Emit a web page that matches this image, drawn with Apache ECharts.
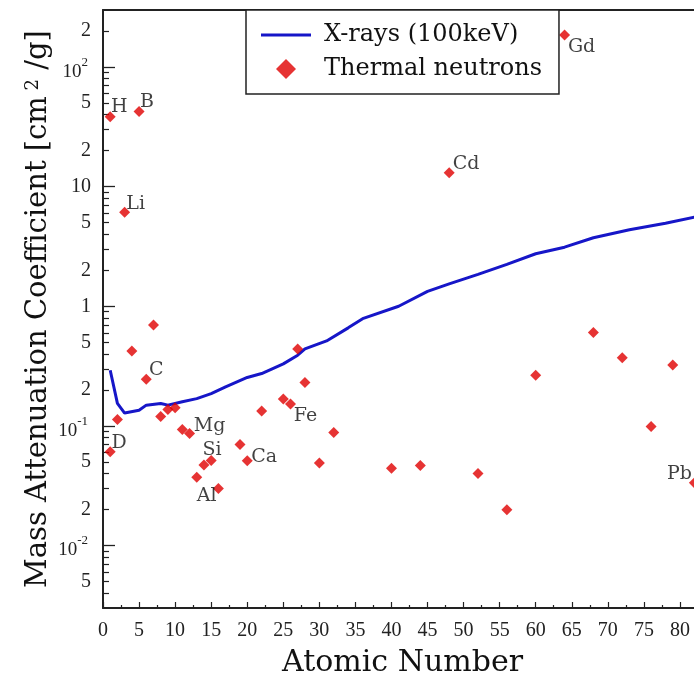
<!DOCTYPE html>
<html><head><meta charset="utf-8">
<script src="https://cdn.jsdelivr.net/npm/echarts@6/dist/echarts.min.js"></script>
<style>html,body{margin:0;padding:0;background:#fff}#c{width:694px;height:684px}</style>
</head><body><div id="c"></div>
<script>
// ---- data ----
const xrayZ = [1,2,3,5,6,8,9,11,13,15,17,20,22,25,27,28,31,34,36,41,45,48,52,56,60,64,68,73,78,82];
const xrayMu = [0.292,0.154,0.128,0.135,0.149,0.154,0.149,0.159,0.169,0.186,0.212,0.254,0.274,0.33,0.39,0.44,0.513,0.66,0.787,1.0,1.33,1.54,1.85,2.24,2.75,3.12,3.74,4.36,4.95,5.55];
const neutronZ = [1,1,2,3,4,5,6,7,8,9,10,11,12,13,14,15,16,19,20,22,25,26,27,28,30,32,40,44,48,52,56,60,64,68,72,76,79,82];
const neutronMu = [38.5,0.0607,0.113,6.1,0.423,42.6,0.245,0.697,0.12,0.137,0.142,0.0933,0.0865,0.0371,0.047,0.0514,0.030,0.070,0.051,0.133,0.168,0.152,0.44,0.23,0.049,0.088,0.0443,0.0467,13.1,0.040,0.0199,0.265,185,0.602,0.372,0.0989,0.323,0.0334];
const neutronLabel = ['H','D','','Li','','B','C','','','','','','Mg','Al','Si','','','','Ca','','','Fe','','','','','','','Cd','','','','Gd','','','','','Pb'];
const seriesNames = ['X-rays (100keV)', 'Thermal neutrons'];
const xTickValues = [0,5,10,15,20,25,30,35,40,45,50,55,60,65,70,75,80];
const yLabelTicks = [0.005,0.01,0.02,0.05,0.1,0.2,0.5,1,2,5,10,20,50,100,200];
const yDecadeTicks = [0.01,0.1,1,10,100];
const yMin = 0.003, yMax = 300, xMin = 0, xMax = 85;

// ---- styling (label placement offsets, not data) ----
const labelOffsets = {H:[9,-10],B:[8,-9],Li:[11,-8],D:[9,-9],C:[10,-9],Mg:[20,-7],Si:[8,-15],Al:[10,19],Ca:[17,-4],Fe:[15,12],Cd:[17,-9],Gd:[17,12],Pb:[-15,-9]};

const yMinorTicks = [];
[0.001,0.01,0.1,1,10,100].forEach(d => { for (let m = 2; m <= 9; m++) { const v = m*d; if (v > yMin*1.0001 && v < yMax) yMinorTicks.push(Math.log10(v)); } });

const serif = 'Liberation Serif';
const titleFont = 'DejaVu Serif';
const axisColor = '#222';
const blue = '#1616c8', red = '#e00000';

const chart = echarts.init(document.getElementById('c'), null, {renderer:'canvas'});
const lgMin = Math.log10(yMin), lgMax = Math.log10(yMax);

function yLabelFmt(v) {
  const e = Math.floor(v + 1e-9);
  const m = Math.round(Math.pow(10, v - e));
  if (m !== 1) return '{b|' + m + '}';
  if (e === 0) return '{b|1}';
  if (e === 1) return '{b|10}';
  return '{e|10}{s|' + e + '}';
}

const option = {
  animation: false,
  backgroundColor: '#fff',
  grid: {left: 103, top: 10, width: 613, height: 598, containLabel: false, outerBoundsMode: 'none'},
  legend: {
    left: 246, top: 10, orient: 'vertical',
    itemWidth: 50, itemHeight: 20, itemGap: 8,
    padding: [12, 17, 12, 15],
    borderColor: '#222', borderWidth: 1.5, backgroundColor: '#fff',
    symbolKeepAspect: true,
    textStyle: {fontFamily: titleFont, fontSize: 24, color: '#111', lineHeight: 26, padding: [0,0,0,8]},
    data: [{name: seriesNames[0], icon: 'path://M0,0 L50,0 L50,3 L0,3 Z', itemStyle: {color: blue}},
           {name: seriesNames[1], icon: 'path://M10,0 L20,10 L10,20 L0,10 Z', itemStyle: {color: red}}]
  },
  xAxis: [{
    type: 'value', min: xMin, max: xMax, interval: 5,
    name: 'Atomic Number', nameLocation: 'middle', nameGap: 40,
    nameTextStyle: {fontFamily: titleFont, fontSize: 30, color: '#111', padding: [0,14,0,0]},
    axisLine: {show: true, onZero: false, lineStyle: {color: axisColor, width: 2}},
    axisTick: {show: true, inside: true, length: 6, lineStyle: {color: axisColor, width: 1.2}},
    minorTick: {show: true, splitNumber: 2, length: 3, lineStyle: {color: axisColor, width: 1.2}},
    axisLabel: {fontFamily: serif, fontSize: 20, color: '#222', margin: 13,
      formatter: v => (xTickValues.indexOf(v) >= 0 ? String(v) : '')},
    splitLine: {show: false}
  }, {
    type: 'value', min: xMin, max: xMax, position: 'top',
    axisLine: {show: true, onZero: false, lineStyle: {color: axisColor, width: 2}},
    axisTick: {show: false}, axisLabel: {show: false}, splitLine: {show: false}
  }],
  yAxis: [{
    type: 'log', logBase: 10, min: yMin, max: yMax,
    name: '{t|Mass Attenuation Coefficient [cm}{s| 2}{t| /g]}',
    nameLocation: 'middle', nameGap: 50, nameRotate: 90,
    nameTextStyle: {fontFamily: titleFont, fontSize: 29, color: '#111',
      rich: {t: {fontFamily: titleFont, fontSize: 29, color: '#111'},
             s: {fontFamily: titleFont, fontSize: 18, color: '#111', verticalAlign: 'top'}}},
    axisLine: {show: true, onZero: false, lineStyle: {color: axisColor, width: 2}},
    axisTick: {show: false}, axisLabel: {show: false}, splitLine: {show: false}, minorTick: {show: false}
  }, {
    type: 'value', min: lgMin, max: lgMax, position: 'left',
    axisLine: {show: false, onZero: false},
    axisTick: {show: true, inside: true, length: 12, customValues: yDecadeTicks.map(Math.log10), lineStyle: {color: axisColor, width: 1.3}},
    axisLabel: {show: true, margin: 12, customValues: yLabelTicks.map(Math.log10), formatter: yLabelFmt,
      fontFamily: serif, fontSize: 20, color: '#222',
      rich: {b: {fontFamily: serif, fontSize: 20, lineHeight: 22, color: '#222'},
             e: {fontFamily: serif, fontSize: 19, lineHeight: 22, color: '#222', padding: [10,0,0,0]},
             s: {fontFamily: serif, fontSize: 13, lineHeight: 14, color: '#222', padding: [0,3,9,0]}}},
    splitLine: {show: false}
  }, {
    type: 'value', min: lgMin, max: lgMax, position: 'left',
    axisLine: {show: false, onZero: false},
    axisTick: {show: true, inside: true, length: 6, customValues: yMinorTicks, lineStyle: {color: axisColor, width: 1.2}},
    axisLabel: {show: false}, splitLine: {show: false}
  }],
  series: [{
    name: seriesNames[0], type: 'line', xAxisIndex: 0, yAxisIndex: 0,
    data: xrayZ.map((z, i) => [z, xrayMu[i]]),
    symbol: 'none', showSymbol: false,
    lineStyle: {color: blue, width: 3}, itemStyle: {color: blue}, z: 2
  }, {
    name: seriesNames[1], type: 'scatter', xAxisIndex: 0, yAxisIndex: 0,
    symbol: 'diamond', symbolSize: 11,
    itemStyle: {color: red}, z: 3,
    data: neutronZ.map((z, i) => {
      const nm = neutronLabel[i];
      const item = {value: [z, neutronMu[i]]};
      if (nm) item.label = {show: true, position: 'inside', offset: labelOffsets[nm], formatter: nm,
        fontFamily: titleFont, fontSize: 19, color: '#111'};
      return item;
    })
  }]
};
chart.setOption(option);
</script>
</body></html>
